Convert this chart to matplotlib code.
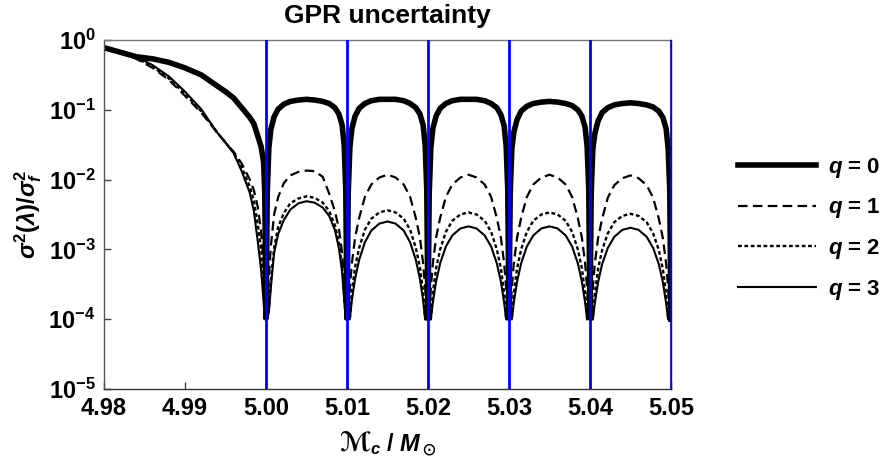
import matplotlib
matplotlib.use("Agg")
import matplotlib.pyplot as plt
import numpy as np

plt.rcParams['font.family'] = ['Liberation Sans', 'DejaVu Sans']
plt.rcParams['font.weight'] = 'bold'
plt.rcParams['mathtext.fontset'] = 'custom'
plt.rcParams['mathtext.rm'] = 'Liberation Sans:bold'
plt.rcParams['mathtext.bf'] = 'Liberation Sans:bold'
plt.rcParams['mathtext.it'] = 'Liberation Sans:italic:bold'
plt.rcParams['mathtext.fallback'] = 'stix'

# sample positions: left tail, then one block of offsets (x 1e-3) after each node
left_x = [4.980, 4.982, 4.984, 4.986, 4.988, 4.990, 4.992, 4.994, 4.995,
          4.996, 4.997, 4.998, 4.9985, 4.999, 4.9994, 4.9997, 4.99985]
nodes = [5.00, 5.01, 5.02, 5.03, 5.04]
offsets = [0, 0.15, 0.35, 0.6, 1.0, 1.5, 2.2, 3.0, 4.0, 5.0,
           6.0, 7.0, 7.8, 8.5, 9.0, 9.4, 9.65, 9.85]
end_x = 5.05

# log10(sigma^2 / sigma_f^2)
q0_left = [-0.11, -0.175, -0.24, -0.27, -0.32, -0.40, -0.50, -0.66, -0.74,
           -0.83, -0.97, -1.11, -1.20, -1.38, -1.53, -1.75, -2.2]
q0_periods = [
    [-4, -2.2, -1.55, -1.28, -1.10, -0.99, -0.92, -0.88, -0.86, -0.85, -0.86, -0.88, -0.91, -0.97, -1.06, -1.22, -1.5, -2.15],
    [-4, -2.2, -1.55, -1.27, -1.09, -0.98, -0.91, -0.87, -0.85, -0.85, -0.85, -0.87, -0.91, -0.97, -1.06, -1.22, -1.5, -2.15],
    [-4, -2.2, -1.55, -1.27, -1.09, -0.98, -0.91, -0.87, -0.85, -0.85, -0.85, -0.87, -0.91, -0.97, -1.07, -1.23, -1.52, -2.15],
    [-4, -2.2, -1.56, -1.32, -1.14, -1.02, -0.95, -0.91, -0.89, -0.88, -0.89, -0.91, -0.94, -1.0, -1.09, -1.25, -1.53, -2.15],
    [-4, -2.2, -1.57, -1.34, -1.16, -1.04, -0.97, -0.93, -0.91, -0.90, -0.91, -0.93, -0.96, -1.02, -1.11, -1.27, -1.55, -2.15],
]

q1_left = [-0.13, -0.19, -0.27, -0.40, -0.57, -0.80, -1.04, -1.33, -1.47,
           -1.60, -1.77, -2.0, -2.15, -2.4, -2.75, -3.2, -3.6]
q1_periods = [
    [-4, -3.9, -3.4, -2.95, -2.5, -2.25, -2.05, -1.94, -1.89, -1.87, -1.88, -1.96, -2.2, -2.45, -2.7, -3.05, -3.45, -4],
    [-4, -4, -3.55, -3.2, -2.83, -2.55, -2.25, -2.07, -1.97, -1.93, -1.97, -2.07, -2.25, -2.55, -2.83, -3.2, -3.55, -4],
    [-4, -4, -3.55, -3.2, -2.83, -2.55, -2.25, -2.07, -1.97, -1.93, -1.97, -2.07, -2.25, -2.55, -2.83, -3.2, -3.55, -4],
    [-4, -4, -3.55, -3.2, -2.83, -2.55, -2.25, -2.07, -1.97, -1.93, -1.97, -2.07, -2.25, -2.55, -2.83, -3.2, -3.55, -4],
    [-4, -4, -3.55, -3.2, -2.84, -2.56, -2.26, -2.08, -1.98, -1.94, -1.98, -2.08, -2.26, -2.56, -2.84, -3.2, -3.55, -4],
]

q2_left = [-0.13, -0.18, -0.26, -0.38, -0.55, -0.77, -1.02, -1.33, -1.47,
           -1.61, -1.82, -2.1, -2.3, -2.65, -3.0, -3.5, -3.85]
q2_periods = [
    [-4, -4, -3.85, -3.45, -2.98, -2.68, -2.48, -2.34, -2.27, -2.24, -2.26, -2.33, -2.45, -2.65, -2.9, -3.25, -3.65, -4],
    [-4, -4, -4, -3.6, -3.25, -2.98, -2.72, -2.56, -2.47, -2.44, -2.47, -2.56, -2.72, -2.98, -3.25, -3.6, -4, -4],
    [-4, -4, -4, -3.62, -3.27, -3.0, -2.75, -2.59, -2.5, -2.47, -2.5, -2.59, -2.75, -3.0, -3.27, -3.62, -4, -4],
    [-4, -4, -4, -3.62, -3.27, -3.0, -2.75, -2.59, -2.5, -2.47, -2.5, -2.59, -2.75, -3.0, -3.27, -3.62, -4, -4],
    [-4, -4, -4, -3.63, -3.28, -3.01, -2.77, -2.61, -2.52, -2.49, -2.52, -2.61, -2.77, -3.01, -3.28, -3.63, -4, -4],
]

q3_left = [-0.12, -0.17, -0.24, -0.36, -0.52, -0.74, -0.99, -1.33, -1.47,
           -1.62, -1.88, -2.19, -2.45, -2.9, -3.3, -3.75, -4.0]
q3_periods = [
    [-4, -4, -3.9, -3.55, -3.05, -2.78, -2.58, -2.43, -2.34, -2.31, -2.33, -2.4, -2.52, -2.72, -2.98, -3.33, -3.72, -4],
    [-4, -4, -4, -3.73, -3.42, -3.15, -2.9, -2.73, -2.63, -2.6, -2.63, -2.73, -2.9, -3.15, -3.42, -3.73, -4, -4],
    [-4, -4, -4, -3.76, -3.46, -3.2, -2.96, -2.8, -2.7, -2.67, -2.7, -2.8, -2.96, -3.2, -3.46, -3.76, -4, -4],
    [-4, -4, -4, -3.76, -3.46, -3.2, -2.96, -2.8, -2.7, -2.67, -2.7, -2.8, -2.96, -3.2, -3.46, -3.76, -4, -4],
    [-4, -4, -4, -3.77, -3.47, -3.21, -2.98, -2.82, -2.72, -2.69, -2.72, -2.82, -2.98, -3.21, -3.47, -3.77, -4, -4],
]
end_val = -4

x_ticks = [4.98, 4.99, 5.00, 5.01, 5.02, 5.03, 5.04, 5.05]
training_points = [5.00, 5.01, 5.02, 5.03, 5.04, 5.05]
labels = ['$q$ = 0', '$q$ = 1', '$q$ = 2', '$q$ = 3']

mc = np.array(left_x + [n + o * 1e-3 for n in nodes for o in offsets] + [end_x])


def series(left, periods):
    vals = list(left)
    for p in periods:
        vals += p
    vals.append(end_val)
    return 10.0 ** np.array(vals)


curves = [series(q0_left, q0_periods), series(q1_left, q1_periods),
          series(q2_left, q2_periods), series(q3_left, q3_periods)]

fig = plt.figure(figsize=(8.86, 4.65), dpi=100)
ax = fig.add_axes([0.1174, 0.1634, 0.6399, 0.7506])

styles = [dict(lw=4.0), dict(lw=1.6, dashes=(4.3, 2.4)),
          dict(lw=1.7, dashes=(1.6, 1.1)), dict(lw=1.5)]
for y, st, lab in zip(curves, styles, labels):
    ax.plot(mc, y, color='black', label=lab, solid_joinstyle='miter', **st)

for xp in training_points:
    ax.axvline(xp, color='#0000ff', lw=2.0, zorder=5)

ax.set_yscale('log')
ax.set_xlim(4.98, 5.05)
ax.set_ylim(1e-5, 1)
ax.set_xticks(x_ticks)
ax.set_xticklabels(['%.2f' % t for t in x_ticks])
ax.set_yticks([1e-5, 1e-4, 1e-3, 1e-2, 1e-1, 1])
ax.set_yticklabels(['$10^{-5}$', '$10^{-4}$', '$10^{-3}$', '$10^{-2}$', '$10^{-1}$', '$10^{0}$'])
ax.minorticks_off()
ax.tick_params(direction='in', length=5, width=1, labelsize=17, pad=6,
               top=False, right=False, color='#444444')

for s in ax.spines.values():
    s.set_color('#777777')
    s.set_linewidth(1)
ax.spines['bottom'].set_color('#333333')
ax.spines['left'].set_color('#555555')
ax.spines['right'].set_color('#1a1a4a')
ax.spines['right'].set_zorder(6)

ax.set_title('GPR uncertainty', fontsize=19, fontweight='bold', pad=12)
ax.set_ylabel('$\\sigma^2(\\lambda)/\\sigma_f^2$', fontsize=17, labelpad=3)

ax.legend(loc='center left', bbox_to_anchor=(0.833, 0.508), bbox_transform=fig.transFigure,
          frameon=False, fontsize=16, handlelength=3.5, handletextpad=0.55,
          labelspacing=0.75, borderpad=0, borderaxespad=0)

# x label in two pieces: script M from a font that has it, then the rest
base_y = 1 - 451 / 465
t1 = fig.text(0, base_y, '\u2133', fontsize=19, fontweight='bold',
              family=['STIXGeneral', 'DejaVu Sans'], va='baseline', ha='left')
t2 = fig.text(0, base_y, '${}_c$ / $M_\\odot$', fontsize=17, va='baseline', ha='left')
fig.canvas.draw()
r = fig.canvas.get_renderer()
w1 = t1.get_window_extent(r).width
w2 = t2.get_window_extent(r).width
cx = (ax.get_position().x0 + ax.get_position().x1) / 2 * fig.bbox.width
x0 = cx - (w1 + w2) / 2
t1.set_x(x0 / fig.bbox.width)
t2.set_x((x0 + w1) / fig.bbox.width)

fig.savefig('out.png', dpi=100)
